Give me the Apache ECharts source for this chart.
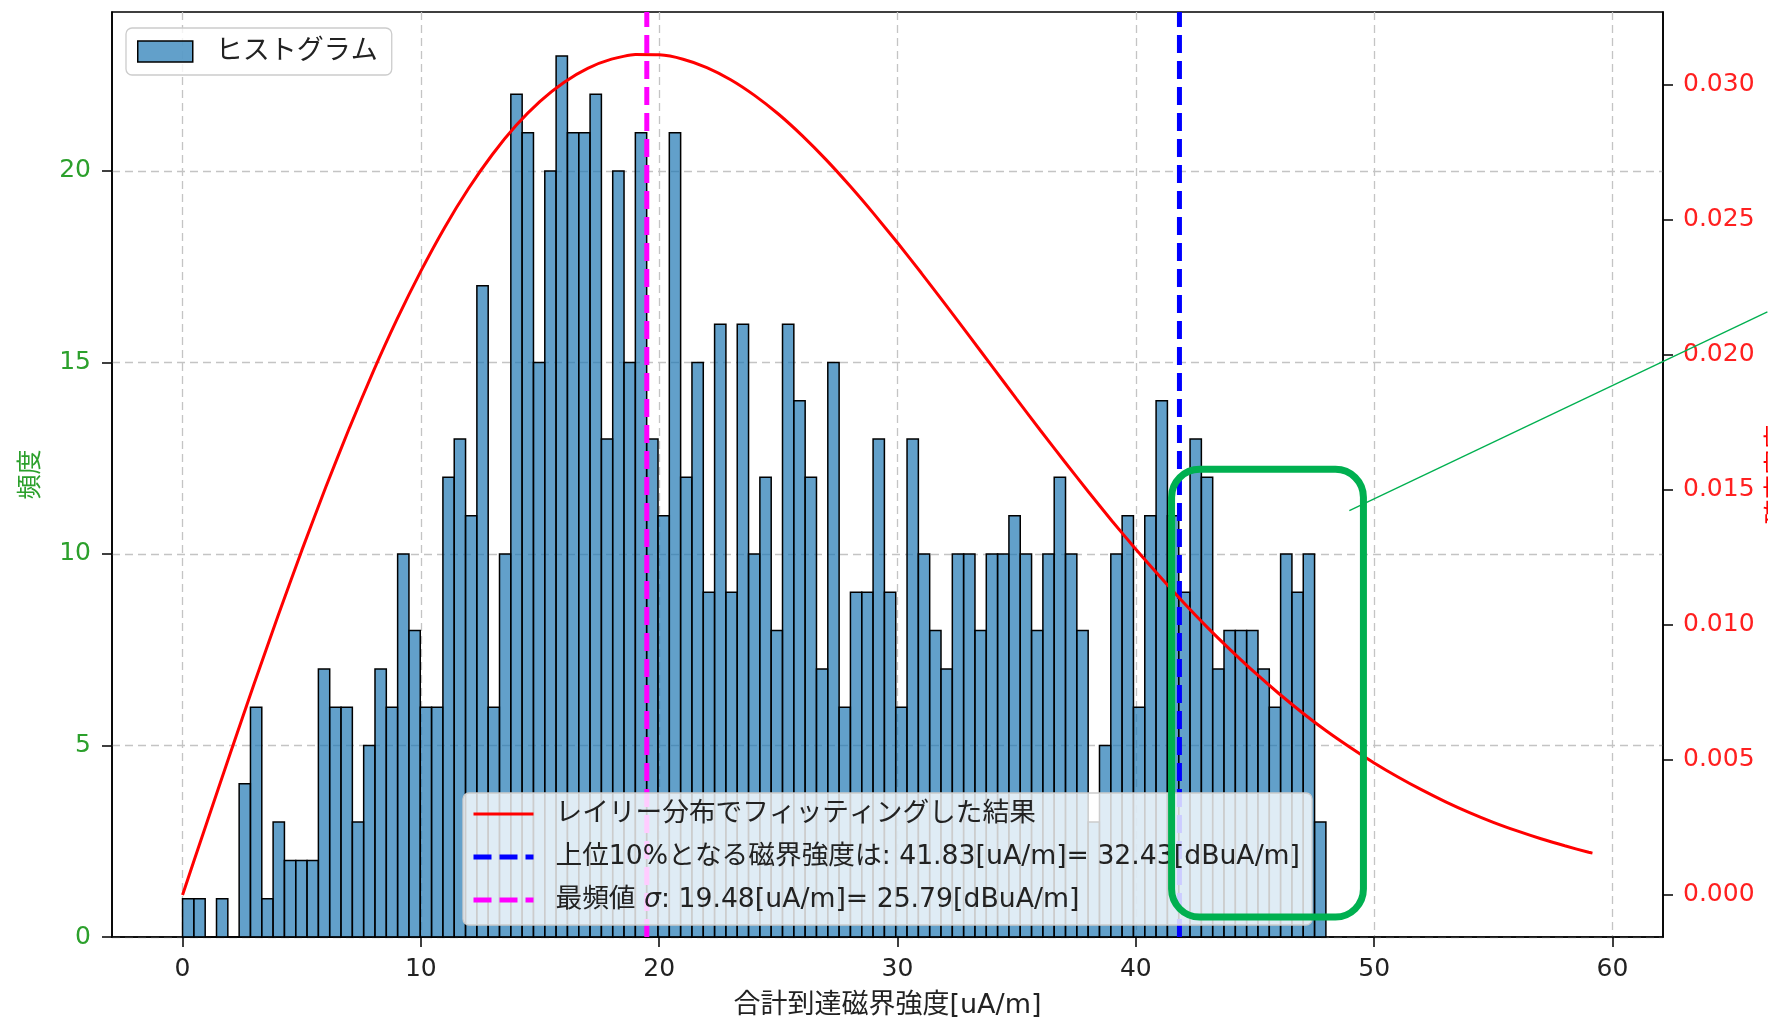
<!DOCTYPE html>
<html><head><meta charset="utf-8">
<script src="https://cdn.jsdelivr.net/npm/echarts@6/dist/echarts.min.js"></script>
<style>html,body{margin:0;padding:0;background:#fff}#c{width:1768px;height:1020px}</style>
</head><body><div id="c"></div>
<script>
// ---- data ----
const binStart = 0;
const binWidth = 0.475;
const counts = [
  1,1,0,1,0,4,6,1,3,2,2,2,7,6,6,3,5,7,6,10,8,6,6,12,13,11,
  17,6,10,22,21,15,20,23,21,21,22,13,20,15,21,13,11,21,12,15,9,16,9,16,10,
  12,8,16,14,12,7,15,6,9,9,13,9,6,13,10,8,7,10,10,8,10,10,11,10,8,10,
  12,10,8,3,5,10,11,6,11,14,11,9,13,12,7,8,8,8,7,6,10,9,10,3
];
const curveX = [0,1,2,3,4,5,6,7,8,9,10,11,12,13,14,15,16,17,18,19,20,21,22,23,24,25,26,27,28,29,
  30,31,32,33,34,35,36,37,38,39,40,41,42,43,44,45,46,47,48,49,50,51,52,53,54,55,56,57,58,59,59.16];
const curveDensity = [0,0.00263,0.00524,0.00781,0.01032,0.01275,0.01508,0.01729,0.01938,0.02132,
  0.02310,0.02472,0.02616,0.02742,0.02850,0.02939,0.03009,0.03061,0.03095,0.03112,
  0.03111,0.03095,0.03064,0.03019,0.02961,0.02892,0.02812,0.02723,0.02626,0.02523,
  0.02415,0.02303,0.02188,0.02071,0.01954,0.01836,0.01720,0.01606,0.01494,0.01385,
  0.01280,0.01180,0.01083,0.00991,0.00905,0.00823,0.00746,0.00674,0.00607,0.00546,
  0.00489,0.00437,0.00389,0.00345,0.00305,0.00269,0.00237,0.00208,0.00182,0.00158,0.00155];
const modeValue = 19.48;
const top10Value = 41.83;
const xTicks = [0,10,20,30,40,50,60];
const yLeftTicks = [0,5,10,15,20];
const yRightTicks = [0,0.005,0.010,0.015,0.020,0.025,0.030];
const nameHist = 'ヒストグラム';
const nameFit = 'レイリー分布でフィッティングした結果';
const nameTop = '上位10%となる磁界強度は: 41.83[uA/m]= 32.43[dBuA/m]';
const nameMode = '最頻値σ: 19.48[uA/m]= 25.79[dBuA/m]';
const xLabel = '合計到達磁界強度[uA/m]';
const yLabel = '頻度';
const y2Label = '確率密度';
// annotation box (data coordinates)
const boxX = [41.5, 49.55];
const boxY = [0.52, 12.21];
const leader = [[48.96, 11.13], [66.5, 16.32]];

// axis extents (matplotlib 5% margins)
const xMin = -2.96, xMax = 62.12;
const yMax = 24.15;
const y2Min = -0.001557, y2Max = 0.032697;

const barData = counts.map((c, i) => [binStart + i * binWidth, binStart + (i + 1) * binWidth, c]);
const curveData = curveX.map((x, i) => [x, curveDensity[i]]);

const tickFont = 'DejaVu Sans';
const jpFont = "'DejaVu Sans', 'Noto Sans CJK JP'";
const spine = {show: true, onZero: false, lineStyle: {color: '#000', width: 1.6}};
const grid = {color: '#c4c4c4', width: 1.3, type: [8, 5]};

const chart = echarts.init(document.getElementById('c'), null, {renderer: 'canvas'});
const option = {
  animation: false,
  backgroundColor: '#ffffff',
  grid: {left: 112, right: 105, top: 12, bottom: 83, show: true, borderColor: '#000', borderWidth: 1.6,
         backgroundColor: 'transparent', outerBoundsMode: 'none', containLabel: false},
  xAxis: {
    type: 'value', min: xMin, max: xMax,
    name: xLabel, nameLocation: 'middle', nameGap: 55,
    nameTextStyle: {fontFamily: jpFont, fontSize: 27, color: '#222'},
    axisLine: spine,
    axisTick: {show: true, inside: false, length: 10, lineStyle: {color: '#000', width: 1.5}, customValues: xTicks},
    axisLabel: {customValues: xTicks, margin: 20, fontFamily: tickFont, fontSize: 25, color: '#222'},
    splitLine: {show: true, lineStyle: grid}
  },
  yAxis: [{
    type: 'value', min: 0, max: yMax, position: 'left',
    name: yLabel, nameLocation: 'middle', nameGap: 68, nameRotate: 90,
    nameTextStyle: {fontFamily: jpFont, fontSize: 25, color: '#2ca02c'},
    axisLine: spine,
    axisTick: {show: true, length: 10, lineStyle: {color: '#000', width: 1.5}, customValues: yLeftTicks},
    axisLabel: {customValues: yLeftTicks, margin: 21, fontFamily: tickFont, fontSize: 25, color: '#2ca02c'},
    splitLine: {show: true, lineStyle: grid}
  }, {
    type: 'value', min: y2Min, max: y2Max, position: 'right',
    name: y2Label, nameLocation: 'middle', nameGap: 103, nameRotate: 90,
    nameTextStyle: {fontFamily: jpFont, fontSize: 25, color: '#ff0000'},
    axisLine: spine,
    axisTick: {show: true, length: 10, lineStyle: {color: '#000', width: 1.5}, customValues: yRightTicks},
    axisLabel: {customValues: yRightTicks, margin: 20, fontFamily: tickFont, fontSize: 25, color: '#ff2020',
                formatter: v => v.toFixed(3)},
    splitLine: {show: false}
  }],
  legend: [{
    data: [{name: nameHist, icon: 'rect'}],
    selectedMode: false,
    left: 126, top: 28, orient: 'vertical',
    padding: [9, 14, 9, 11],
    itemWidth: 55, itemHeight: 21,
    backgroundColor: 'rgba(255,255,255,0.8)', borderColor: '#cccccc', borderWidth: 1.3, borderRadius: 6,
    itemStyle: {borderColor: '#000', borderWidth: 1.5},
    textStyle: {fontFamily: jpFont, fontSize: 27, color: '#222', lineHeight: 29, padding: [0, 0, 0, 18]}
  }, {
    data: [nameFit, nameTop, nameMode],
    selectedMode: false,
    left: 463, top: 793, orient: 'vertical',
    padding: [6, 12, 10, 8], itemGap: 13,
    itemWidth: 60, itemHeight: 14,
    backgroundColor: 'rgba(255,255,255,0.8)', borderColor: '#cccccc', borderWidth: 1.3, borderRadius: 6,
    lineStyle: {width: 'inherit'},
    itemStyle: {opacity: 0, borderWidth: 0},
    formatter: n => n === nameMode ? n.replace('σ', ' {i|σ}') : n,
    textStyle: {fontFamily: jpFont, fontSize: 26.7, color: '#222', lineHeight: 30, padding: [0, 0, 0, 17],
      rich: {i: {fontFamily: 'DejaVu Sans', fontStyle: 'italic', fontSize: 26.7, color: '#222', lineHeight: 30}}}
  }],
  series: [{
    name: nameHist, type: 'custom', xAxisIndex: 0, yAxisIndex: 0, z: 2,
    itemStyle: {color: 'rgba(31,119,180,0.7)', borderColor: '#000', borderWidth: 1.5},
    encode: {x: [0, 1], y: 2},
    data: barData,
    renderItem: function (params, api) {
      const p0 = api.coord([api.value(0), api.value(2)]);
      const p1 = api.coord([api.value(1), 0]);
      return {type: 'rect', shape: {x: p0[0], y: p0[1], width: p1[0] - p0[0], height: p1[1] - p0[1]},
              style: api.style()};
    }
  }, {
    name: nameTop, type: 'line', xAxisIndex: 0, yAxisIndex: 0, z: 3, symbol: 'none',
    lineStyle: {color: '#0000ff', width: 5, type: [18, 8], cap: 'butt'}, itemStyle: {color: '#0000ff'},
    data: [[top10Value, 0], [top10Value, yMax]]
  }, {
    name: nameMode, type: 'line', xAxisIndex: 0, yAxisIndex: 0, z: 3, symbol: 'none',
    lineStyle: {color: '#ff00ff', width: 5, type: [18, 8], cap: 'butt'}, itemStyle: {color: '#ff00ff'},
    data: [[modeValue, 0], [modeValue, yMax]]
  }, {
    name: nameFit, type: 'line', xAxisIndex: 0, yAxisIndex: 1, z: 4, symbol: 'none', smooth: 0.2,
    lineStyle: {color: '#ff0000', width: 3}, itemStyle: {color: '#ff0000'},
    data: curveData
  }]
};
chart.setOption(option);

const c = (p) => chart.convertToPixel({xAxisIndex: 0, yAxisIndex: 0}, p);
const b0 = c([boxX[0], boxY[1]]);
const b1 = c([boxX[1], boxY[0]]);
const l0 = c(leader[0]);
const l1 = c(leader[1]);
chart.setOption({
  graphic: [{
    type: 'rect', z: 100,
    shape: {x: b0[0], y: b0[1], width: b1[0] - b0[0], height: b1[1] - b0[1], r: 28},
    style: {fill: 'none', stroke: '#00b050', lineWidth: 7}
  }, {
    type: 'line', z: 100,
    shape: {x1: l0[0], y1: l0[1], x2: l1[0], y2: l1[1]},
    style: {stroke: '#00b050', lineWidth: 1.3}
  }]
});
</script></body></html>
